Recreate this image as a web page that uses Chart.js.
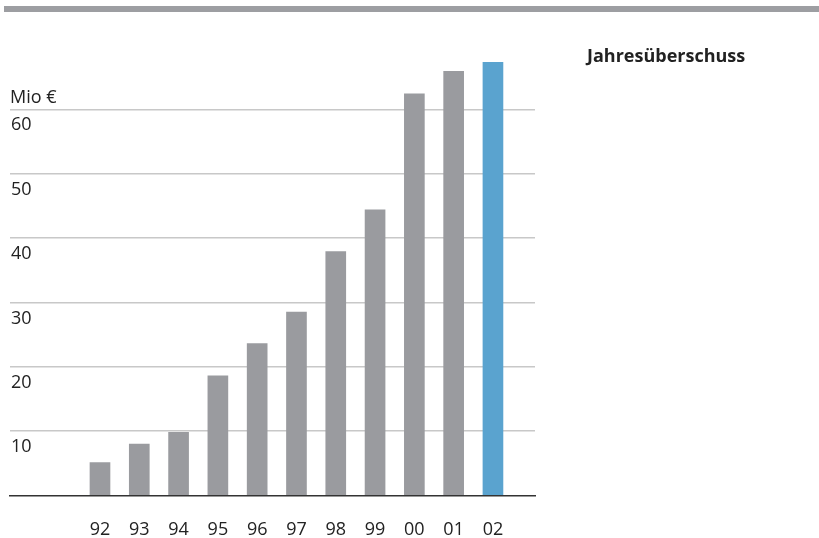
<!DOCTYPE html>
<html>
<head>
<meta charset="utf-8">
<script src="https://cdn.jsdelivr.net/npm/chart.js@4/dist/chart.umd.min.js"></script>
<style>
  html, body { margin: 0; padding: 0; background: #fff; }
  #wrap { position: relative; width: 819px; height: 538px; overflow: hidden; }
  #band { position: absolute; left: 4px; top: 6px; width: 815px; height: 6px; background: #9d9ea2; }
  .txt { position: absolute; font-family: "Open Sans", sans-serif; color: #222; white-space: nowrap; line-height: 1; }
  #unit { left: 10px; top: 87px; font-size: 18px; }
  #title { left: 587px; top: 46px; font-size: 18px; font-weight: bold; }
  canvas { position: absolute; left: 0; top: 0; }
</style>
</head>
<body>
<div id="wrap">
  <div id="band"></div>
  <canvas id="c" width="819" height="538"></canvas>
  <div class="txt" id="unit">Mio €</div>
  <div class="txt" id="title">Jahresüberschuss</div>
</div>
<script>
// Jahresüberschuss in Mio €, 1992–2002
const years = ['92', '93', '94', '95', '96', '97', '98', '99', '00', '01', '02'];
const surplus = [5.1, 8.0, 9.8, 18.6, 23.6, 28.5, 37.9, 44.4, 62.4, 65.9, 67.3];
const yTicks = [10, 20, 30, 40, 50, 60];

const GREY = '#9a9b9f';
const BLUE = '#5aa3cf';

const points = surplus.map((v, i) => ({ x: i, y: v }));
const colors = surplus.map((v, i) => (i === surplus.length - 1 ? BLUE : GREY));

new Chart(document.getElementById('c'), {
  type: 'bar',
  data: {
    datasets: [{
      data: points,
      backgroundColor: colors,
      borderWidth: 0,
      barThickness: 20
    }]
  },
  options: {
    responsive: false,
    devicePixelRatio: 1,
    animation: false,
    plugins: { legend: { display: false }, tooltip: { enabled: false } },
    layout: { padding: { left: 10, right: 284, top: 45, bottom: 0 } },
    scales: {
      x: {
        type: 'linear',
        offset: false,
        min: -2.29,
        max: 11.07,
        grid: { display: true, offset: false, color: 'transparent', drawTicks: false },
        border: { display: true, color: '#333', width: 1.5 },
        afterBuildTicks: (scale) => {
          scale.ticks = years.map((y, i) => ({ value: i }));
        },
        afterFit: (scale) => { scale.height = 42.5; },
        ticks: {
          padding: 24,
          color: '#222',
          font: { family: 'Open Sans', size: 18 },
          maxRotation: 0,
          autoSkip: false,
          callback: (v) => years[v] ?? ''
        }
      },
      y: {
        min: 0,
        max: 70,
        afterBuildTicks: (scale) => {
          scale.ticks = [0].concat(yTicks).map(v => ({ value: v }));
        },
        afterFit: (scale) => { scale.width = 0; },
        grid: {
          drawTicks: false,
          lineWidth: 1.5,
          color: (ctx) => (ctx.tick && ctx.tick.value === 0 ? 'transparent' : '#c8c8c8')
        },
        border: { display: false },
        ticks: {
          mirror: true,
          padding: 1,
          labelOffset: 16,
          color: '#222',
          font: { family: 'Open Sans', size: 18 },
          callback: (v) => (v === 0 ? '' : String(v))
        }
      }
    }
  }
});
</script>
</body>
</html>
